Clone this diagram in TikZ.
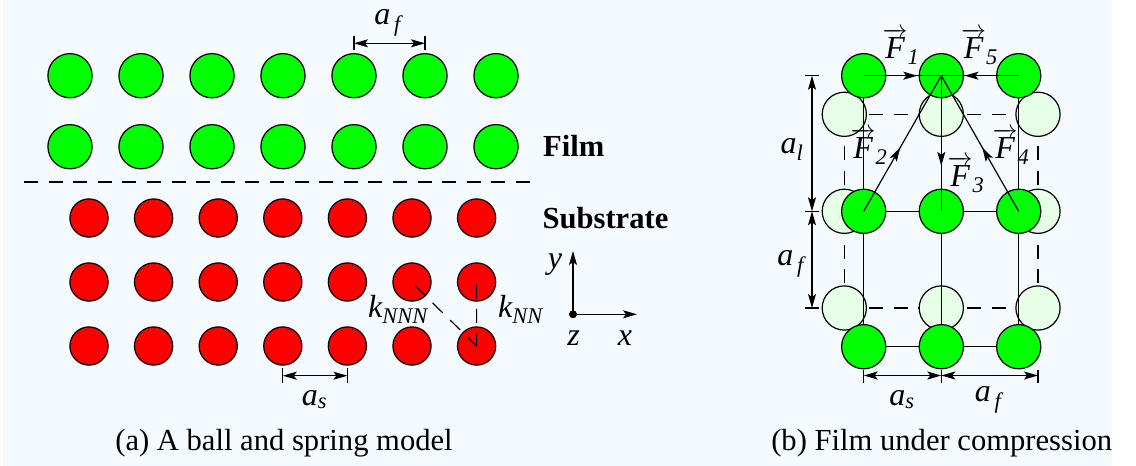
\documentclass[tikz,border=0pt]{standalone}
\usepackage{amsmath}
\usepackage{fontspec}
\setmainfont{Liberation Serif}
\usetikzlibrary{arrows.meta, calc, decorations.markings}
\definecolor{paper}{HTML}{F5FAFF}
\definecolor{ghost}{HTML}{E6FFE6}
\newcommand{\sym}[2]{$\textit{#1}_{\textit{#2}}$}
\newcommand{\force}[1]{$\overrightarrow{\textit{F}}_{\textit{#1}}$}
\tikzset{
  ball/.style      = {circle, draw, inner sep=0pt, line width=1.2pt},
  filmball/.style  = {ball, minimum size=44.2pt, fill=green},
  subball/.style   = {ball, minimum size=38.2pt, fill=red},
  oldball/.style   = {ball, minimum size=44.2pt, fill=ghost},
  label/.style     = {inner sep=0pt, anchor=base, font=\fontsize{32}{36}\selectfont},
  heading/.style   = {inner sep=0pt, anchor=base, font=\fontsize{30.6}{34}\selectfont\bfseries},
  caption/.style   = {inner sep=0pt, anchor=base, font=\fontsize{30.6}{34}\selectfont},
  arrow/.style     = {{Stealth[length=14pt, width=8pt, inset=3pt]}-{Stealth[length=14pt, width=8pt, inset=3pt]}, line width=1.2pt},
  endtip/.style    = {-{Stealth[length=14pt, width=8pt, inset=3pt]}, line width=1.2pt},
  tick/.style      = {line width=1.2pt},
  bond/.style      = {line width=1.2pt},
  gridline/.style  = {line width=1.2pt, dash pattern=on 14pt off 10.6pt},
  tipat/.style     = {line width=1.2pt, postaction={decorate}, decoration={markings,
                      mark=at position #1 with {\arrow{Stealth[length=14pt, width=8pt, inset=3pt]}}}}
}
\begin{document}
\begin{tikzpicture}[x=1pt, y=-1pt]
  \useasboundingbox (0,0) rectangle (1136,466);
  \fill[paper] (3,0) rectangle (1112,466);

  % ball and spring model
  \foreach \i in {1,...,7} {
    \node[filmball] (ft\i) at ({70+71*(\i-1)},75.7) {};
    \node[filmball] (fb\i) at ({70+71*(\i-1)},146.7) {};
    \node[subball]  (sa\i) at ({89+64.6*(\i-1)},218) {};
    \node[subball]  (sb\i) at ({89+64.6*(\i-1)},282) {};
    \node[subball]  (sc\i) at ({89+64.6*(\i-1)},346) {};
  }
  \coordinate (cutl) at (24,182);
  \coordinate (cutr) at (532,182);
  \draw[gridline] (cutl) -- (cutr);
  \coordinate (nnnstart) at (415,285.7);
  \coordinate (nnstart) at (476.6,284.3);
  \draw[gridline] (nnnstart) -- (sc7.center);
  \draw[gridline] (nnstart) -- (sc7.center);

  % lattice constants of the model
  \coordinate (aft1) at (ft5.center |- 0,36);
  \coordinate (aft2) at (ft6.center |- 0,36);
  \coordinate (afb1) at (ft5.center |- 0,50);
  \coordinate (afb2) at (ft6.center |- 0,50);
  \coordinate (afm1) at (ft5.center |- 0,43.3);
  \coordinate (afm2) at (ft6.center |- 0,43.3);
  \draw[tick] (aft1) -- (afb1);
  \draw[tick] (aft2) -- (afb2);
  \draw[arrow] (afm1) -- (afm2);
  \node[label] (afla) at (387.5,24) {\sym{a}{\,f}};
  \coordinate (ast1) at (sc4.center |- 0,368);
  \coordinate (ast2) at (sc5.center |- 0,368);
  \coordinate (asb1) at (sc4.center |- 0,383);
  \coordinate (asb2) at (sc5.center |- 0,383);
  \coordinate (asm1) at (sc4.center |- 0,375.7);
  \coordinate (asm2) at (sc5.center |- 0,375.7);
  \draw[tick] (ast1) -- (asb1);
  \draw[tick] (ast2) -- (asb2);
  \draw[arrow] (asm1) -- (asm2);
  \node[label] (asla) at (314.5,405) {\sym{a}{s}};
  \node[label] (knnn) at (398,317) {\sym{k}{NNN}};
  \node[label] (knn)  at (520.5,317) {\sym{k}{NN}};
  \node[heading] (film) at (573.7,156.7) {Film};
  \node[heading] (subs) at (605.5,228) {Substrate};

  % axes
  \node[circle, fill, inner sep=0pt, minimum size=8pt] (orig) at (573,314.3) {};
  \coordinate (yend) at (573,251);
  \coordinate (xend) at (637,314.3);
  \draw[endtip] (orig.center) -- (yend);
  \draw[endtip] (orig.center) -- (xend);
  \node[label] (ylab) at (555,268) {\textit{y}};
  \node[label] (zlab) at (573.5,345) {\textit{z}};
  \node[label] (xlab) at (625,345) {\textit{x}};

  % film under compression
  \coordinate (ol1) at (844.3,114.3);
  \coordinate (ol3) at (1038,114.3);
  \coordinate (ob1) at (844.3,308);
  \coordinate (ob3) at (1038,308);
  \draw[gridline] (ol1) -- (ol3);
  \draw[gridline] (ob1) -- (ob3);
  \draw[gridline] (ob1) -- (ol1);
  \draw[gridline] (ob3) -- (ol3);
  \foreach \n/\x/\y in {pl1/844.3/114.3, pl2/941.3/114.3, pl3/1038/114.3,
                        pm1/844.3/211.3, pm3/1038/211.3,
                        pb1/844.3/308, pb2/941.3/308, pb3/1038/308} {
    \node[oldball] (\n) at (\x,\y) {};
  }
  \coordinate (nt1) at (863.7,75.7);
  \coordinate (nt2) at (941.3,75.7);
  \coordinate (nt3) at (1018.7,75.7);
  \coordinate (nm1) at (863.7,211.3);
  \coordinate (nm2) at (941.3,211.3);
  \coordinate (nm3) at (1018.7,211.3);
  \coordinate (nb1) at (863.7,346.7);
  \coordinate (nb2) at (941.3,346.7);
  \coordinate (nb3) at (1018.7,346.7);
  \draw[bond] (nm1) -- (nm3);
  \draw[bond] (nb1) -- (nb3);
  \draw[bond] (nt1) -- (nb1);
  \draw[bond] (nm2) -- (nb2);
  \draw[bond] (nt3) -- (nb3);
  \foreach \n in {nt1,nt2,nt3,nm1,nm2,nm3,nb1,nb2,nb3} {
    \node[filmball] (\n c) at (\n) {};
  }

  % forces
  \draw[tipat=0.69] (nt1) -- (nt2);
  \draw[tipat=0.70]  (nt3) -- (nt2);
  \draw[tipat=0.665] (nt2) -- (nm2);
  \draw[tipat=0.47]  (nm1) -- (nt2);
  \draw[tipat=0.47]  (nm3) -- (nt2);
  \node[label] (f1) at (901,58.3) {\force{1}};
  \node[label] (f5) at (979.5,58.3) {\force{5}};
  \node[label] (f2) at (869,158.3) {\force{2}};
  \node[label] (f3) at (966,186.7) {\force{3}};
  \node[label] (f4) at (1011,158.3) {\force{4}};

  % lattice constants of the film
  \coordinate (dt1) at (805,75.7);
  \coordinate (dt2) at (819,75.7);
  \coordinate (dm1) at (805,211.3);
  \coordinate (dm2) at (819,211.3);
  \coordinate (db1) at (805,308);
  \coordinate (db2) at (819,308);
  \draw[tick] (dt1) -- (dt2);
  \draw[tick] (dm1) -- (dm2);
  \draw[tick] (db1) -- (db2);
  \coordinate (da1) at (812,75.7);
  \coordinate (da2) at (812,211.3);
  \coordinate (da3) at (812,308);
  \draw[arrow] (da1) -- (da2);
  \draw[arrow] (da2) -- (da3);
  \node[label] (alla) at (792,153.3) {\sym{a}{l}};
  \node[label] (aflb) at (790.5,265) {\sym{a}{\,f}};
  \coordinate (bt1) at (863.7,370);
  \coordinate (bt2) at (941.3,370);
  \coordinate (bt3) at (1038,370);
  \coordinate (bb1) at (863.7,383);
  \coordinate (bb2) at (941.3,383);
  \coordinate (bb3) at (1038,383);
  \draw[tick] (bt1) -- (bb1);
  \draw[tick] (bt2) -- (bb2);
  \draw[tick] (bt3) -- (bb3);
  \coordinate (bm1) at (863.7,375.5);
  \coordinate (bm2) at (941.3,375.5);
  \coordinate (bm3) at (1038,375.5);
  \draw[arrow] (bm1) -- (bm2);
  \draw[arrow] (bm2) -- (bm3);
  \node[label] (aslb) at (902,405) {\sym{a}{s}};
  \node[label] (aflc) at (988,401.7) {\sym{a}{\,f}};

  % captions
  \node[caption] (capa) at (284,450) {(a) A ball and spring model};
  \node[caption] (capb) at (941.7,450) {(b) Film under compression};
\end{tikzpicture}
\end{document}
